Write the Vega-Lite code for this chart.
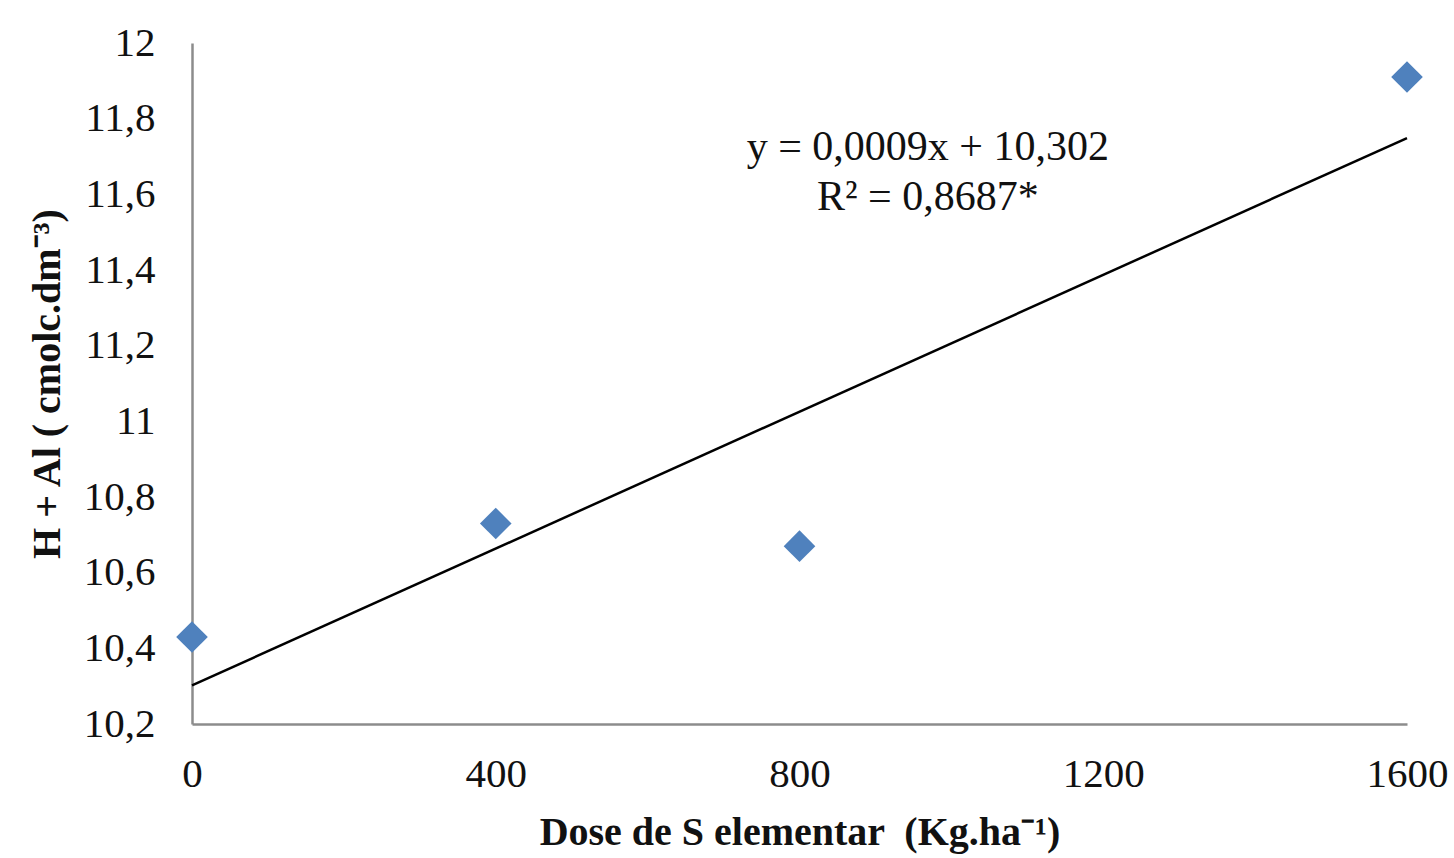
{
  "$schema": "https://vega.github.io/schema/vega-lite/v6.json",
  "autosize": "none",
  "width": 1215,
  "height": 681,
  "padding": {"left": 192, "top": 43, "right": 47, "bottom": 134},
  "background": "white",
  "config": {
    "view": {"stroke": null},
    "font": "Liberation Serif",
    "axis": {
      "grid": false,
      "ticks": false,
      "tickSize": 0,
      "domainColor": "#8c8c8c",
      "domainWidth": 2.5,
      "labelFont": "Liberation Serif",
      "labelFontSize": 41,
      "labelColor": "#111111",
      "titleFont": "Liberation Serif",
      "titleFontSize": 40,
      "titleFontWeight": "bold",
      "titleColor": "#111111"
    }
  },
  "datasets": {
    "pts": [
      {"dose": 0, "hal": 10.43},
      {"dose": 400, "hal": 10.73},
      {"dose": 800, "hal": 10.67},
      {"dose": 1600, "hal": 11.91}
    ],
    "eq": [
      {"dose": 969, "hal": 11.725, "txt": "y = 0,0009x + 10,302"},
      {"dose": 969, "hal": 11.593, "txt": "R² = 0,8687*"}
    ]
  },
  "layer": [
    {
      "data": {"name": "pts"},
      "transform": [{"regression": "hal", "on": "dose", "method": "linear", "extent": [0, 1600]}],
      "mark": {"type": "line", "color": "#000000", "strokeWidth": 2.5},
      "encoding": {
        "x": {"field": "dose", "type": "quantitative", "scale": {"domain": [0, 1600], "nice": false},
          "axis": {"values": [0, 400, 800, 1200, 1600], "format": "d", "labelPadding": 30, "title": "Dose de S elementar \u00a0(Kg.ha⁻¹)", "titlePadding": 18, "labelFlush": false}},
        "y": {"field": "hal", "type": "quantitative", "scale": {"domain": [10.2, 12], "nice": false, "zero": false},
          "axis": {"values": [10.2, 10.4, 10.6, 10.8, 11, 11.2, 11.4, 11.6, 11.8, 12], "format": ",.1~f", "labelExpr": "replace(datum.label, '.', ',')", "labelPadding": 37, "title": "H + Al ( cmolc.dm⁻³)", "titlePadding": 16, "labelFlush": false}}
      }
    },
    {
      "data": {"name": "pts"},
      "mark": {"type": "point", "shape": "diamond", "filled": true, "color": "#4f81bd", "size": 1000, "opacity": 1},
      "encoding": {
        "x": {"field": "dose", "type": "quantitative"},
        "y": {"field": "hal", "type": "quantitative"}
      }
    },
    {
      "data": {"name": "eq"},
      "mark": {"type": "text", "font": "Liberation Serif", "fontSize": 42, "color": "#111111", "align": "center", "baseline": "middle"},
      "encoding": {
        "x": {"field": "dose", "type": "quantitative"},
        "y": {"field": "hal", "type": "quantitative"},
        "text": {"field": "txt"}
      }
    }
  ]
}
